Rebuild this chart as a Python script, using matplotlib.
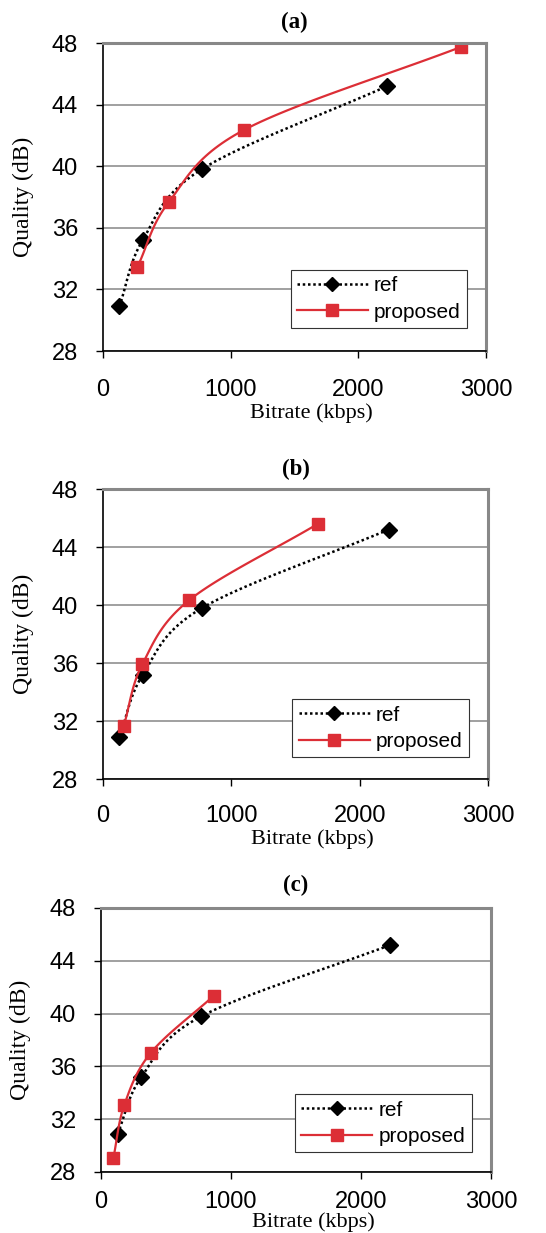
import numpy as np
import matplotlib
matplotlib.use("Agg")
import matplotlib.pyplot as plt
from matplotlib.lines import Line2D

# reference anchor (same in every panel)
ref_rate = [128, 311, 773, 2226]
ref_psnr = [30.9, 35.2, 39.8, 45.2]

# proposed method, one series per panel
prop_a_rate = [269, 514, 1104, 2806]
prop_a_psnr = [33.45, 37.65, 42.35, 47.75]
prop_b_rate = [161, 306, 674, 1675]
prop_b_psnr = [31.65, 35.9, 40.35, 45.6]
prop_c_rate = [95, 180, 385, 867]
prop_c_psnr = [29.05, 33.1, 37.05, 41.35]

titles = ["(a)", "(b)", "(c)"]
x_ticks = [0, 1000, 2000, 3000]
y_ticks = [28, 32, 36, 40, 44, 48]

RED = "#DC2E36"
DOTS = (0, (1, 1.1))


def smooth(x, y, n=30):
    # Catmull-Rom through the points, done in axis-normalised space
    px = np.asarray(x, float) / 3000.0
    py = (np.asarray(y, float) - 28) / 20.0 * 0.75
    P = np.column_stack([px, py])
    P = np.vstack([P[0] - (P[1] - P[0]), P, P[-1] + (P[-1] - P[-2])])
    out = []
    for i in range(1, len(P) - 2):
        p0, p1, p2, p3 = P[i - 1], P[i], P[i + 1], P[i + 2]
        t = np.linspace(0, 1, n)[:, None]
        seg = 0.5 * ((2 * p1) + (-p0 + p2) * t + (2 * p0 - 5 * p1 + 4 * p2 - p3) * t ** 2
                     + (-p0 + 3 * p1 - 3 * p2 + p3) * t ** 3)
        out.append(seg)
    s = np.vstack(out)
    return s[:, 0] * 3000.0, s[:, 1] / 0.75 * 20.0 + 28


fig = plt.figure(figsize=(5.46, 12.33), dpi=100)

# left, bottom, width, height in figure fractions
boxes = [
    (103 / 546, 1 - 351 / 1233, 383 / 546, 308 / 1233),
    (103 / 546, 1 - 779 / 1233, 385 / 546, 290 / 1233),
    (101 / 546, 1 - 1172 / 1233, 390 / 546, 264 / 1233),
]
props = [(prop_a_rate, prop_a_psnr), (prop_b_rate, prop_b_psnr), (prop_c_rate, prop_c_psnr)]
xlabel_y = [-0.17, -0.172, -0.152]
xtick_pad = [15, 14, 9]
title_pad = [11, 10, 12]

for k in range(3):
    ax = fig.add_axes(boxes[k])
    ax.set_xlim(0, 3000)
    ax.set_ylim(28, 48)
    ax.set_xticks(x_ticks)
    ax.set_yticks(y_ticks)
    ax.yaxis.grid(True, color="#999999", linewidth=1.3)
    ax.set_axisbelow(True)
    for side in ["top", "right"]:
        ax.spines[side].set_color("#888888")
        ax.spines[side].set_linewidth(2.2)
    for side in ["left", "bottom"]:
        ax.spines[side].set_color("black")
        ax.spines[side].set_linewidth(1.2)
    ax.tick_params(axis="both", direction="out", length=5, width=1, labelsize=17)
    ax.tick_params(axis="x", pad=xtick_pad[k])
    ax.tick_params(axis="y", pad=13)
    for lab in ax.get_xticklabels() + ax.get_yticklabels():
        lab.set_fontfamily("Liberation Sans")

    sx, sy = smooth(ref_rate, ref_psnr)
    ax.plot(sx, sy, color="black", linestyle=DOTS, linewidth=1.8)
    ax.plot(ref_rate, ref_psnr, linestyle="none", marker="D", markersize=8,
            color="black")
    pr, pq = props[k]
    sx, sy = smooth(pr, pq)
    ax.plot(sx, sy, color=RED, linewidth=1.6)
    ax.plot(pr, pq, linestyle="none", marker="s", markersize=9, color=RED)

    ax.set_title(titles[k], fontfamily="Liberation Serif", fontweight="bold",
                 fontsize=16.5, pad=title_pad[k])
    ax.set_ylabel("Quality (dB)", fontfamily="Liberation Serif", fontsize=17)
    ax.yaxis.set_label_coords(-0.18, 0.5)
    ax.set_xlabel("Bitrate (kbps)", fontfamily="Liberation Serif", fontsize=16)
    ax.xaxis.set_label_coords(0.545, xlabel_y[k])

    handles = [
        Line2D([], [], color="black", linestyle=DOTS, linewidth=1.8,
               marker="D", markersize=7),
        Line2D([], [], color=RED, linewidth=1.6, marker="s", markersize=9),
    ]
    leg = ax.legend(handles, ["ref", "proposed"], loc="lower right",
                    bbox_to_anchor=(0.95, 0.075), borderaxespad=0, fancybox=False,
                    framealpha=1, edgecolor="#333333",
                    prop={"family": "Liberation Sans", "size": 15},
                    handlelength=3.4, borderpad=0.3, labelspacing=0.35,
                    handletextpad=0.3)
    leg.get_frame().set_linewidth(0.8)

fig.savefig("out.png", dpi=100)
